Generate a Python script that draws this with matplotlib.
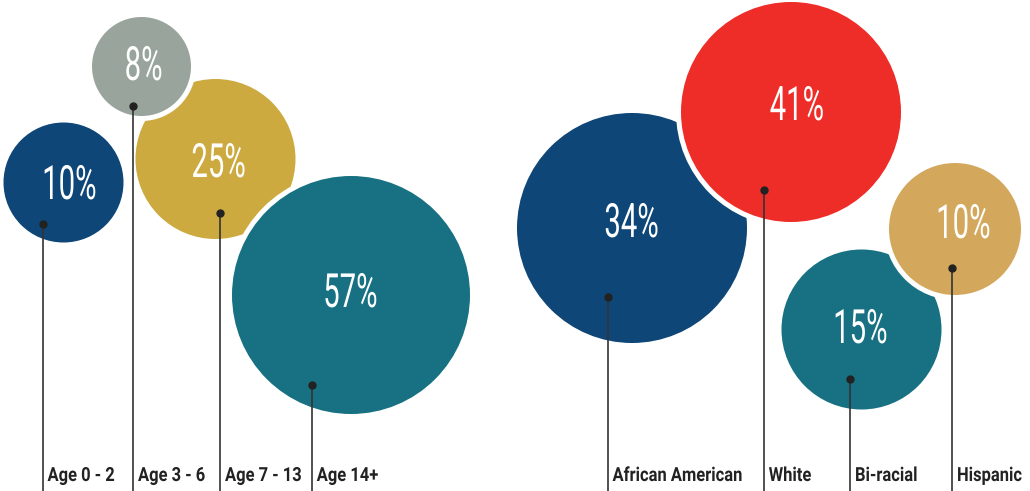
import matplotlib
matplotlib.use("Agg")
import matplotlib.pyplot as plt
from matplotlib.patches import Circle
from matplotlib.patheffects import AbstractPathEffect
from matplotlib.transforms import Affine2D

# data
age_labels = ["Age 0 - 2", "Age 3 - 6", "Age 7 - 13", "Age 14+"]
age_values = [10, 8, 25, 57]
race_labels = ["African American", "White", "Bi-racial", "Hispanic"]
race_values = [34, 41, 15, 10]

# colours
age_colors = ["#0e4677", "#99a59c", "#ccaa3f", "#177182"]
race_colors = ["#0e4677", "#ee2d28", "#177182", "#d3a85d"]

# layout (pixel space): bubble centre, radius, value text (centre x, baseline y), marker dot
age_centers = [(63.5, 182.5), (141.5, 66.5), (215.5, 159), (351, 295)]
age_radii = [60, 49.5, 80, 119]
age_text = [(69, 199), (143.5, 80), (218.5, 177), (350, 307)]
age_dots = [(42.5, 224), (133, 106), (220, 212.5), (311.7, 385)]
age_order = [0, 2, 1, 3]

race_centers = [(632, 228), (791, 112), (861.5, 329.5), (955, 229)]
race_radii = [115, 110, 80, 66]
race_text = [(631.5, 237), (797, 120), (860, 343), (963, 238)]
race_dots = [(607.5, 297), (763.7, 189.7), (850, 379), (952, 268)]
race_order = [0, 1, 2, 3]

W, H = 1030, 491


class Squeeze(AbstractPathEffect):
    """Narrow the glyphs horizontally (no condensed font installed)."""

    def __init__(self, sx, anchor="center"):
        super().__init__()
        self.sx = sx
        self.anchor = anchor

    def draw_path(self, renderer, gc, tpath, affine, rgbFace=None):
        if self.anchor == "center":
            ext = tpath.get_extents()
            cx = (ext.x0 + ext.x1) / 2
        else:
            cx = 0
        squeeze = Affine2D().translate(-cx, 0).scale(self.sx, 1).translate(cx, 0)
        renderer.draw_path(gc, tpath, squeeze + affine, rgbFace)


def draw_group(ax, labels, values, colors, centers, radii, text_pos, dots, order):
    z = 1
    for i in order:
        cx, cy = centers[i]
        # white halo so overlapping bubbles get a gap
        ax.add_patch(Circle((cx, cy), radii[i] + 5, facecolor="white", edgecolor="none", zorder=z))
        ax.add_patch(Circle((cx, cy), radii[i], facecolor=colors[i], edgecolor="none", zorder=z + 1))
        z += 2
    for i in range(len(values)):
        tx, ty = text_pos[i]
        ax.text(tx, ty, f"{values[i]}%", color="white", fontsize=34, family=["Roboto", "DejaVu Sans"],
                fontweight="normal", ha="center", va="baseline", zorder=50,
                path_effects=[Squeeze(0.62)])
        dx, dy = dots[i]
        ax.plot([dx, dx], [dy, H], color="#333333", lw=1.2, zorder=60, solid_capstyle="butt")
        ax.plot(dx, dy, "o", color="#222222", ms=5, zorder=61)
        ax.text(dx + 5, 481, labels[i], color="#222222", fontsize=14, family=["Roboto", "DejaVu Sans"],
                fontweight="bold", ha="left", va="baseline", zorder=60,
                path_effects=[Squeeze(0.85, anchor="left")])


def main():
    fig = plt.figure(figsize=(W / 100, H / 100), dpi=100)
    ax = fig.add_axes([0, 0, 1, 1])
    ax.set_xlim(0, W)
    ax.set_ylim(H, 0)
    ax.set_aspect("equal")
    ax.axis("off")

    draw_group(ax, age_labels, age_values, age_colors, age_centers, age_radii,
               age_text, age_dots, age_order)
    draw_group(ax, race_labels, race_values, race_colors, race_centers, race_radii,
               race_text, race_dots, race_order)

    fig.savefig("out.png", dpi=100, facecolor="white")


if __name__ == "__main__":
    main()
